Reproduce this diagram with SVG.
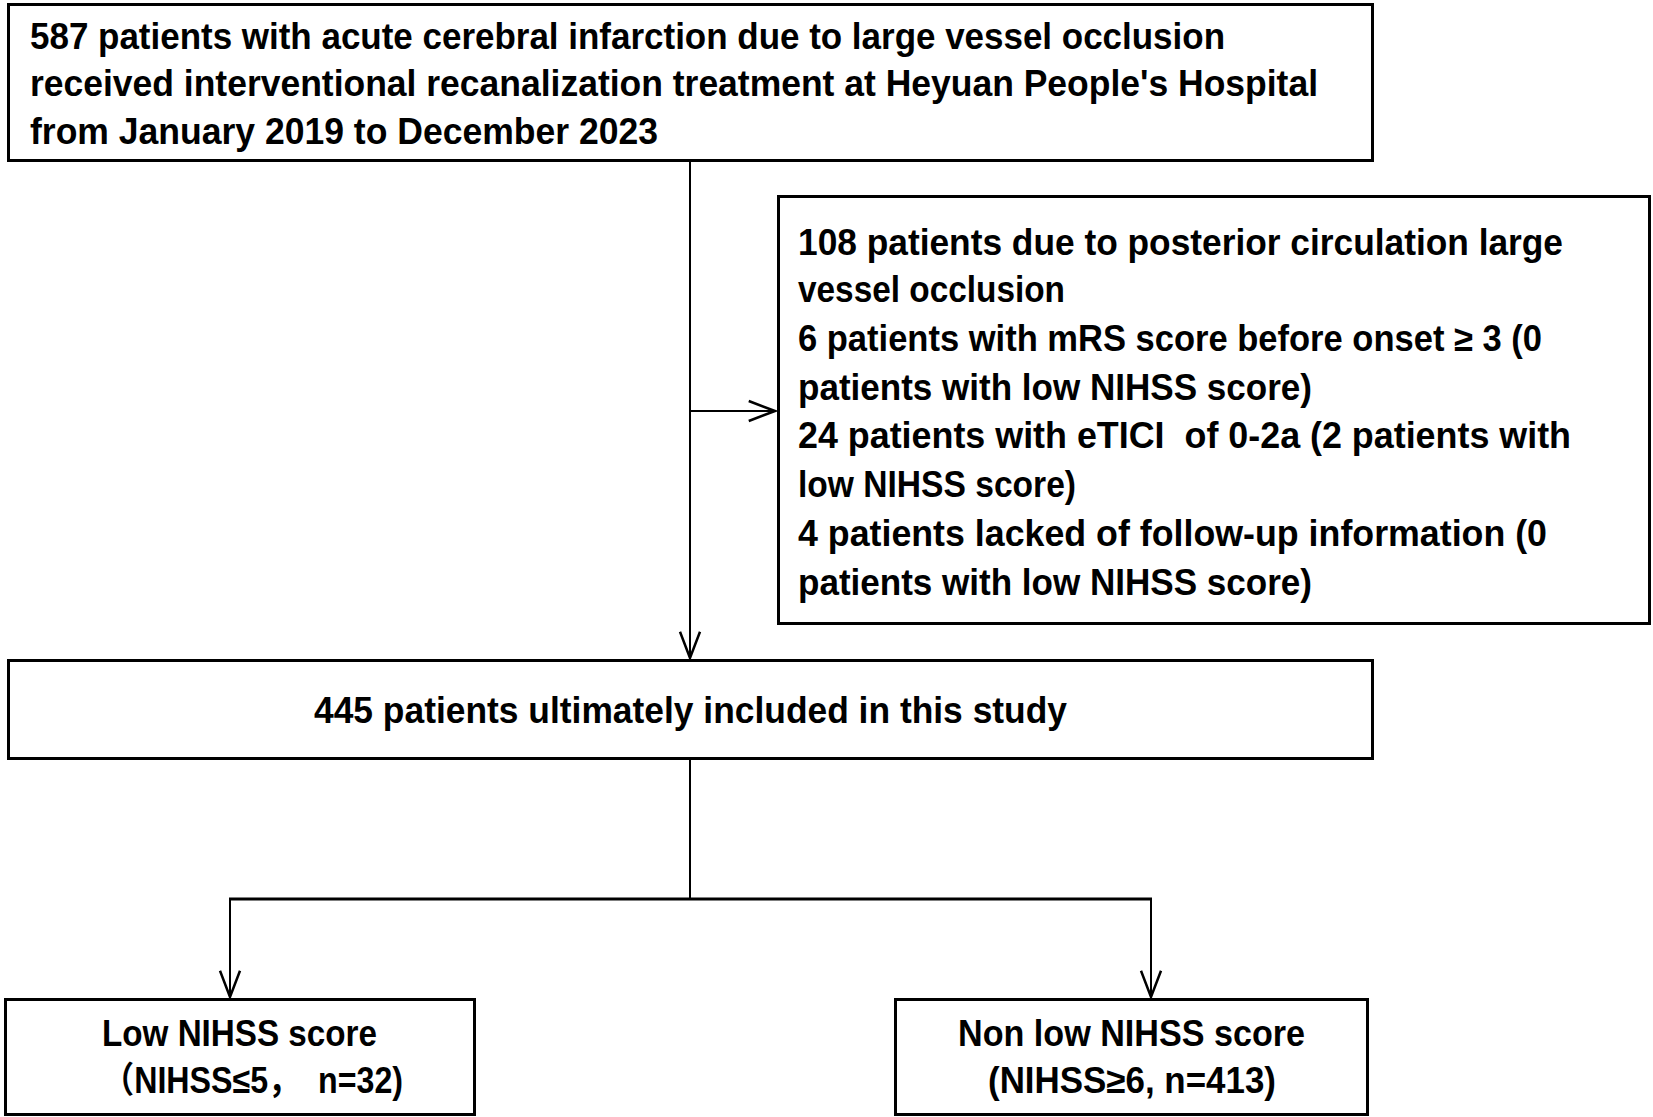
<svg xmlns="http://www.w3.org/2000/svg" width="1653" height="1117" viewBox="0 0 1653 1117">
<style>
.box{fill:#fff;stroke:#000;stroke-width:3}
.t{font-family:"Liberation Sans","Noto Sans CJK SC",sans-serif;font-weight:bold;font-size:36px;fill:#000}
.ln{fill:none;stroke:#000;stroke-width:2}
</style>
<defs>
<marker id="ah" markerUnits="userSpaceOnUse" markerWidth="30" markerHeight="30" viewBox="-22 -10 24 20" refX="0" refY="0" orient="auto">
<path d="M-21,-8 L0,0 L-21,8" fill="none" stroke="#000" stroke-width="2"/>
</marker>
</defs>
<rect width="1653" height="1117" fill="#fff"/>
<g id="connectors">
<path class="ln" d="M690,160 V658" marker-end="url(#ah)"/>
<path class="ln" d="M690,411 H775" marker-end="url(#ah)"/>
<path class="ln" d="M690,758 V899"/>
<path class="ln" d="M229,899 H1152" style="stroke-width:3"/>
<path class="ln" d="M230,899 V997" marker-end="url(#ah)"/>
<path class="ln" d="M1151,899 V997" marker-end="url(#ah)"/>
</g>
<g id="node-source">
<rect class="box" x="8.5" y="4.5" width="1364" height="156"/>
<text class="t" x="30" y="48.5" textLength="1195" lengthAdjust="spacingAndGlyphs">587 patients with acute cerebral infarction due to large vessel occlusion</text>
<text class="t" x="30" y="96" textLength="1288" lengthAdjust="spacingAndGlyphs">received interventional recanalization treatment at Heyuan People's Hospital</text>
<text class="t" x="30" y="144" textLength="628" lengthAdjust="spacingAndGlyphs">from January 2019 to December 2023</text>
</g>
<g id="node-excluded">
<rect class="box" x="778.5" y="196.5" width="871" height="427"/>
<text class="t" x="798" y="255" textLength="765" lengthAdjust="spacingAndGlyphs">108 patients due to posterior circulation large</text>
<text class="t" x="798" y="302" textLength="267" lengthAdjust="spacingAndGlyphs">vessel occlusion</text>
<text class="t" x="798" y="351" textLength="744" lengthAdjust="spacingAndGlyphs">6 patients with mRS score before onset ≥ 3 (0</text>
<text class="t" x="798" y="400" textLength="514" lengthAdjust="spacingAndGlyphs">patients with low NIHSS score)</text>
<text class="t" x="798" y="448" textLength="773" lengthAdjust="spacingAndGlyphs" xml:space="preserve">24 patients with eTICI  of 0-2a (2 patients with</text>
<text class="t" x="798" y="497" textLength="278" lengthAdjust="spacingAndGlyphs">low NIHSS score)</text>
<text class="t" x="798" y="546" textLength="749" lengthAdjust="spacingAndGlyphs">4 patients lacked of follow-up information (0</text>
<text class="t" x="798" y="595" textLength="514" lengthAdjust="spacingAndGlyphs">patients with low NIHSS score)</text>
</g>
<g id="node-included">
<rect class="box" x="8.5" y="660.5" width="1364" height="98"/>
<text class="t" x="314" y="723" textLength="753" lengthAdjust="spacingAndGlyphs">445 patients ultimately included in this study</text>
</g>
<g id="node-low">
<rect class="box" x="5.5" y="999.5" width="469" height="115"/>
<text class="t" x="102" y="1046" textLength="275" lengthAdjust="spacingAndGlyphs">Low NIHSS score</text>
<text class="t" x="102" y="1093" textLength="301" lengthAdjust="spacingAndGlyphs" xml:space="preserve">（NIHSS≤5，  n=32)</text>
</g>
<g id="node-nonlow">
<rect class="box" x="895.5" y="999.5" width="472" height="115"/>
<text class="t" x="958" y="1046" textLength="347" lengthAdjust="spacingAndGlyphs">Non low NIHSS score</text>
<text class="t" x="988" y="1093" textLength="288" lengthAdjust="spacingAndGlyphs">(NIHSS≥6, n=413)</text>
</g>
</svg>
